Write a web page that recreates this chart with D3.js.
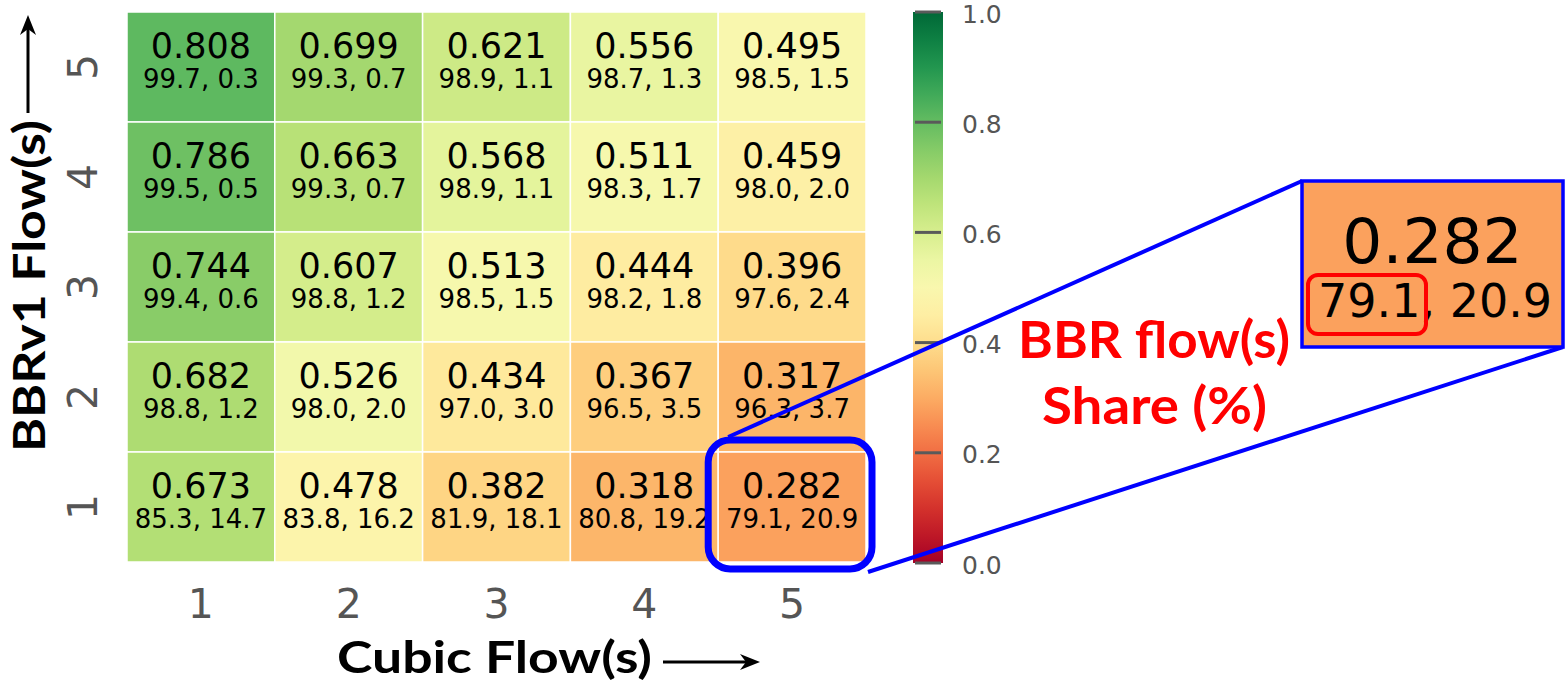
<!DOCTYPE html>
<html>
<head>
<meta charset="utf-8">
<script src="https://cdn.jsdelivr.net/npm/d3@7"></script>
<style>
  html, body { margin: 0; padding: 0; background: #fff; }
  svg { display: block; }
</style>
</head>
<body>
<svg id="chart" width="1565" height="681"></svg>
<script>
// Cubic flows along x, BBRv1 flows along y
const cubicFlows = [1, 2, 3, 4, 5];
const bbrFlows = [5, 4, 3, 2, 1];

// Fairness index per row (BBRv1 = 5 .. 1), columns Cubic = 1 .. 5
const fairness = [
  [0.808, 0.699, 0.621, 0.556, 0.495],
  [0.786, 0.663, 0.568, 0.511, 0.459],
  [0.744, 0.607, 0.513, 0.444, 0.396],
  [0.682, 0.526, 0.434, 0.367, 0.317],
  [0.673, 0.478, 0.382, 0.318, 0.282]
];

// BBR share (%) per cell; the Cubic share is the remainder
const bbrShare = [
  [99.7, 99.3, 98.9, 98.7, 98.5],
  [99.5, 99.3, 98.9, 98.3, 98.0],
  [99.4, 98.8, 98.5, 98.2, 97.6],
  [98.8, 98.0, 97.0, 96.5, 96.3],
  [85.3, 83.8, 81.9, 80.8, 79.1]
];
const cubicShare = [
  [0.3, 0.7, 1.1, 1.3, 1.5],
  [0.5, 0.7, 1.1, 1.7, 2.0],
  [0.6, 1.2, 1.5, 1.8, 2.4],
  [1.2, 2.0, 3.0, 3.5, 3.7],
  [14.7, 16.2, 18.1, 19.2, 20.9]
];

const colorbarTicks = [0.0, 0.2, 0.4, 0.6, 0.8, 1.0];

// Highlighted cell (Cubic, BBRv1)
const focusCell = { cubic: 5, bbr: 1 };

const svg = d3.select("#chart");
const color = d3.scaleSequential(d3.interpolateRdYlGn).domain([0, 1]);

const x = d3.scaleBand().domain(cubicFlows).range([127, 866]);
const y = d3.scaleBand().domain(bbrFlows).range([12, 562]);

const cells = [];
bbrFlows.forEach((b, i) => {
  cubicFlows.forEach((c, j) => {
    cells.push({ cubic: c, bbr: b, v: fairness[i][j], s1: bbrShare[i][j], s2: cubicShare[i][j] });
  });
});

const numFont = "'DejaVu Sans', Verdana, sans-serif";
const titleFont = "Lato, 'Open Sans', sans-serif";

// Heatmap cells
const g = svg.append("g");
g.selectAll("rect.cell").data(cells).join("rect")
  .attr("class", "cell")
  .attr("x", d => x(d.cubic))
  .attr("y", d => y(d.bbr))
  .attr("width", x.bandwidth())
  .attr("height", y.bandwidth())
  .attr("fill", d => color(d.v))
  .attr("stroke", "#fff")
  .attr("stroke-width", 1.5);

g.selectAll("text.val").data(cells).join("text")
  .attr("class", "val")
  .attr("x", d => x(d.cubic) + x.bandwidth() / 2)
  .attr("y", d => y(d.bbr) + y.bandwidth() / 2 - 9)
  .attr("text-anchor", "middle")
  .attr("font-family", numFont)
  .attr("font-size", 35)
  .attr("fill", "#000")
  .text(d => d.v.toFixed(3));

g.selectAll("text.share").data(cells).join("text")
  .attr("class", "share")
  .attr("x", d => x(d.cubic) + x.bandwidth() / 2)
  .attr("y", d => y(d.bbr) + y.bandwidth() / 2 + 21)
  .attr("text-anchor", "middle")
  .attr("font-family", numFont)
  .attr("font-size", 26)
  .attr("fill", "#000")
  .text(d => `${d.s1.toFixed(1)}, ${d.s2.toFixed(1)}`);

// Axis tick labels
svg.append("g").selectAll("text").data(cubicFlows).join("text")
  .attr("x", d => x(d) + x.bandwidth() / 2)
  .attr("y", 618)
  .attr("text-anchor", "middle")
  .attr("font-family", numFont)
  .attr("font-size", 41)
  .attr("fill", "#555")
  .text(d => d);

svg.append("g").selectAll("text").data(bbrFlows).join("text")
  .attr("transform", d => `translate(97,${y(d) + y.bandwidth() / 2}) rotate(-90)`)
  .attr("text-anchor", "middle")
  .attr("font-family", numFont)
  .attr("font-size", 41)
  .attr("fill", "#555")
  .text(d => d);

// Axis titles with arrows
svg.append("text")
  .attr("x", 337).attr("y", 673)
  .attr("font-family", titleFont).attr("font-weight", "bold")
  .attr("font-size", 44)
  .attr("textLength", 315).attr("lengthAdjust", "spacingAndGlyphs")
  .attr("fill", "#000")
  .text("Cubic Flow(s)");

svg.append("text")
  .attr("transform", "translate(45,452) rotate(-90)")
  .attr("font-family", titleFont).attr("font-weight", "bold")
  .attr("font-size", 44)
  .attr("textLength", 332).attr("lengthAdjust", "spacingAndGlyphs")
  .attr("fill", "#000")
  .text("BBRv1 Flow(s)");

function arrow(x1, y1, x2, y2) {
  const ang = Math.atan2(y2 - y1, x2 - x1);
  const len = 20, half = 8, notch = 14;
  const bx = x2 - len * Math.cos(ang), by = y2 - len * Math.sin(ang);
  const nx = x2 - notch * Math.cos(ang), ny = y2 - notch * Math.sin(ang);
  const px = -Math.sin(ang) * half, py = Math.cos(ang) * half;
  svg.append("line")
    .attr("x1", x1).attr("y1", y1).attr("x2", nx).attr("y2", ny)
    .attr("stroke", "#000").attr("stroke-width", 3);
  svg.append("path")
    .attr("d", `M${x2},${y2}L${bx + px},${by + py}L${nx},${ny}L${bx - px},${by - py}Z`)
    .attr("fill", "#000");
}
arrow(663, 662, 760, 662);
arrow(28, 113, 28, 15);

// Colour bar
const cbY = d3.scaleLinear().domain([0, 1]).range([563, 12]);
const defs = svg.append("defs");
const grad = defs.append("linearGradient")
  .attr("id", "cbgrad").attr("x1", 0).attr("y1", 1).attr("x2", 0).attr("y2", 0);
d3.range(0, 1.0001, 0.05).forEach(t => {
  grad.append("stop").attr("offset", t).attr("stop-color", color(t));
});
svg.append("rect")
  .attr("x", 913).attr("y", cbY(1))
  .attr("width", 30).attr("height", cbY(0) - cbY(1))
  .attr("fill", "url(#cbgrad)");

const cb = svg.append("g");
cb.selectAll("line").data(colorbarTicks).join("line")
  .attr("x1", 915).attr("x2", 941)
  .attr("y1", d => cbY(d)).attr("y2", d => cbY(d))
  .attr("stroke", "#5a5a5a").attr("stroke-width", 3);
cb.selectAll("text").data(colorbarTicks).join("text")
  .attr("x", 962)
  .attr("y", d => cbY(d) + 1)
  .attr("dy", "0.38em")
  .attr("font-family", numFont)
  .attr("font-size", 25)
  .attr("fill", "#555")
  .text(d => d.toFixed(1));

// Highlight of the focus cell and the enlarged callout
const fIdxRow = bbrFlows.indexOf(focusCell.bbr);
const fIdxCol = cubicFlows.indexOf(focusCell.cubic);
const fVal = fairness[fIdxRow][fIdxCol];
const fS1 = bbrShare[fIdxRow][fIdxCol];
const fS2 = cubicShare[fIdxRow][fIdxCol];

const fx = x(focusCell.cubic), fy = y(focusCell.bbr);
const hl = { x: fx - 10, y: fy - 12, w: x.bandwidth() + 16, h: y.bandwidth() + 19 };

const inset = { x: 1302, y: 181, w: 261, h: 166 };

svg.append("line")
  .attr("x1", hl.x + 20).attr("y1", hl.y - 3)
  .attr("x2", inset.x).attr("y2", inset.y)
  .attr("stroke", "#0000ff").attr("stroke-width", 4);
svg.append("line")
  .attr("x1", hl.x + hl.w - 4).attr("y1", hl.y + hl.h + 3)
  .attr("x2", inset.x + inset.w).attr("y2", inset.y + inset.h)
  .attr("stroke", "#0000ff").attr("stroke-width", 4);

svg.append("rect")
  .attr("x", hl.x).attr("y", hl.y).attr("width", hl.w).attr("height", hl.h)
  .attr("rx", 22).attr("ry", 22)
  .attr("fill", "none").attr("stroke", "#0000ff").attr("stroke-width", 7);

svg.append("rect")
  .attr("x", inset.x).attr("y", inset.y).attr("width", inset.w).attr("height", inset.h)
  .attr("fill", color(fVal)).attr("stroke", "#0000ff").attr("stroke-width", 3.5);

svg.append("text")
  .attr("x", inset.x + inset.w / 2).attr("y", 263)
  .attr("text-anchor", "middle")
  .attr("font-family", numFont).attr("font-size", 63).attr("fill", "#000")
  .text(fVal.toFixed(3));
svg.append("text")
  .attr("x", 1318).attr("y", 317)
  .attr("font-family", numFont).attr("font-size", 46).attr("fill", "#000")
  .text(`${fS1.toFixed(1)}, ${fS2.toFixed(1)}`);

svg.append("rect")
  .attr("x", 1308).attr("y", 275).attr("width", 118).attr("height", 59)
  .attr("rx", 10).attr("ry", 10)
  .attr("fill", "none").attr("stroke", "#ff0000").attr("stroke-width", 4);

// Annotation for the first number of each pair
const note = svg.append("g")
  .attr("font-family", titleFont).attr("font-weight", "bold")
  .attr("font-size", 52).attr("fill", "#ff0000");
note.append("text")
  .attr("x", 1018).attr("y", 358)
  .attr("textLength", 272).attr("lengthAdjust", "spacingAndGlyphs")
  .text("BBR flow(s)");
note.append("text")
  .attr("x", 1042).attr("y", 424)
  .attr("textLength", 225).attr("lengthAdjust", "spacingAndGlyphs")
  .text("Share (%)");
</script>
</body>
</html>
